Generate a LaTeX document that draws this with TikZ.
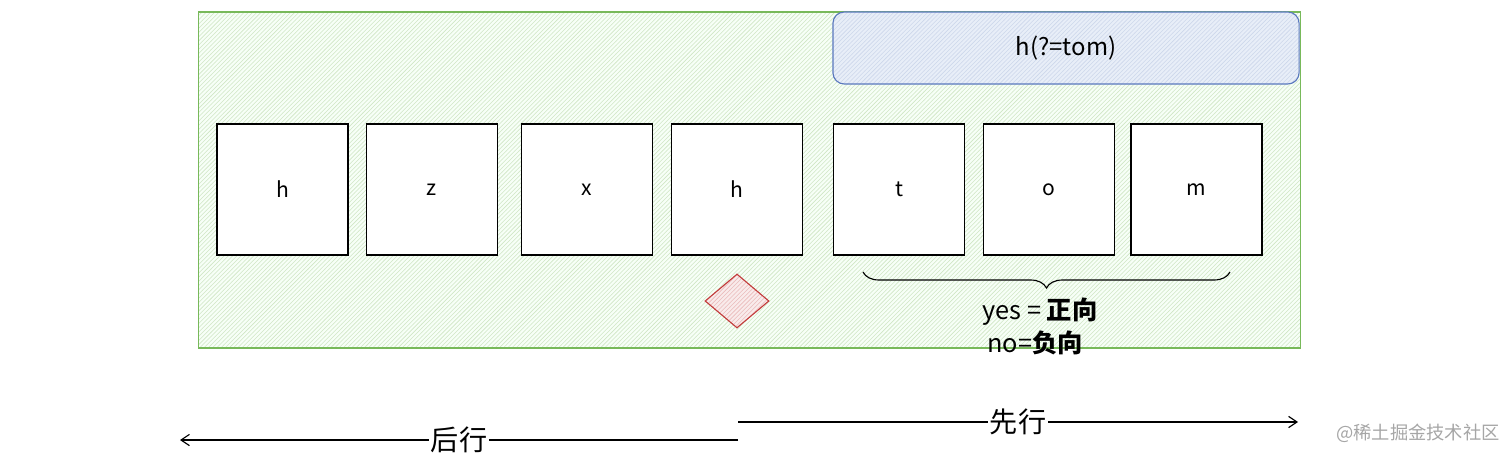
\documentclass[tikz,border=0pt]{standalone}
\usepackage{fontspec}
\setmainfont{Noto Sans CJK SC}
\usepackage{tikz}
\usetikzlibrary{positioning}
\usetikzlibrary{decorations.pathreplacing}
\usetikzlibrary{patterns, shapes.geometric, arrows.meta}
\definecolor{grpgreen}{RGB}{120,185,90}
\definecolor{lookblue}{RGB}{90,120,190}
\definecolor{lookfill}{RGB}{232,238,248}
\definecolor{markred}{RGB}{195,60,60}

\begin{document}
\begin{tikzpicture}[
    x = 0.025cm,
    y = -0.025cm,
    semithick,
    ]

    \tikzstyle{cell}=[
    draw = black,
    thick,
    fill = white,
    minimum size = 3.275cm,
    inner sep = 0pt,
    font = \fontsize{15}{18}\selectfont,
    ]
    \tikzstyle{walk}=[
    -{Straight Barb[length=6pt, width=8pt]},
    thick,
    ]
    \tikzstyle{dirlabel}=[
    fill = white,
    inner sep = 1pt,
    font = \fontsize{20}{24}\selectfont,
    ]

    \useasboundingbox (0,0) rectangle (1512,459);

    % outer group
    \node[draw=grpgreen, thick, preaction={fill=green!3},
          pattern=north east lines, pattern color=grpgreen!35,
          minimum width=27.525cm, minimum height=8.4cm, inner sep=0pt]
        (group) at (749.5,180) {};

    % lookahead box
    \node[draw=lookblue, thick, rounded corners=8pt, preaction={fill=lookfill},
          pattern=north east lines, pattern color=lookblue!30,
          minimum width=11.65cm, minimum height=1.8cm,
          font=\fontsize{17}{20}\selectfont] (look) at (1066,48) {h(?=tom)};

    % characters
    \node[cell] (c1) at (282.5,189.5) {h};
    \node[cell] (c2) [right=0.425cm of c1] {z};
    \node[cell] (c3) [right=0.575cm of c2] {x};
    \node[cell] (c4) [right=0.45cm of c3] {h};
    \node[cell] (c5) [right=0.75cm of c4] {t};
    \node[cell] (c6) [right=0.45cm of c5] {o};
    \node[cell] (c7) [right=0.375cm of c6] {m};

    % current position
    \node[diamond, draw=markred, thick, aspect=1.2, preaction={fill=markred!10},
          pattern=north east lines, pattern color=markred!35,
          minimum width=1.6cm, minimum height=1.35cm, inner sep=0pt] (pos) at (737,301) {};

    % brace under tom
    \coordinate (br) at (1230,272);
    \coordinate (bl) at (863,272);
    \draw[thick, decorate, decoration={brace, amplitude=0.4cm}] (br) -- (bl);
    \node[font=\fontsize{18}{21}\selectfont] (yes) at (1040,312) {yes = \textbf{正向}};
    \node[font=\fontsize{18}{21}\selectfont] (no) at (1035,343) {no=\textbf{负向}};

    % directions
    \coordinate (back0) at (738,440);
    \coordinate (back1) at (180,440);
    \coordinate (ahead0) at (738,422);
    \coordinate (ahead1) at (1298,422);
    \path[walk] (back0) edge node[dirlabel] {后行} (back1);
    \path[walk] (ahead0) edge node[dirlabel] {先行} (ahead1);

    \node[text=gray!70, font=\fontsize{13}{15}\selectfont] (mark) at (1418,433) {@稀土掘金技术社区};
  \end{tikzpicture}
\end{document}
